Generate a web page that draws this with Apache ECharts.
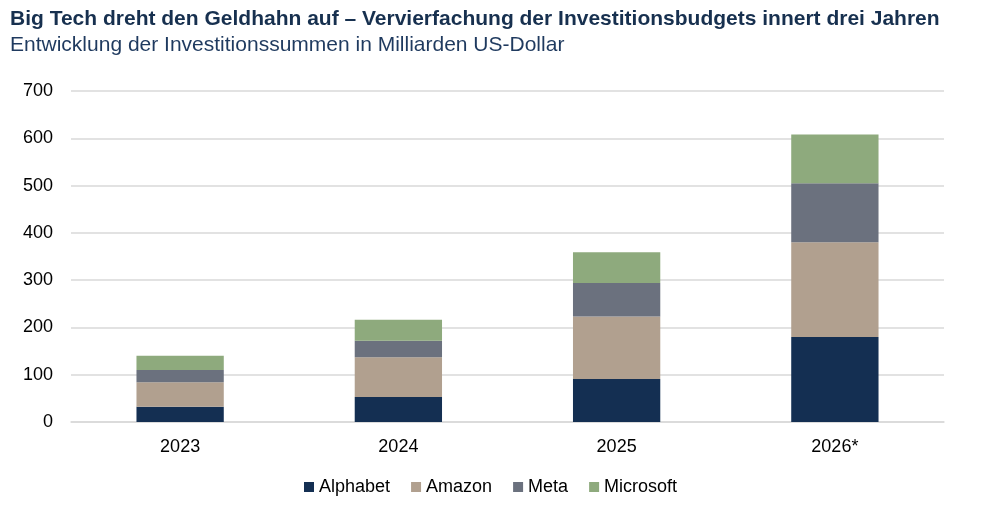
<!DOCTYPE html>
<html>
<head>
<meta charset="utf-8">
<script src="https://cdn.jsdelivr.net/npm/echarts@6/dist/echarts.min.js"></script>
<style>
html,body{margin:0;padding:0;background:#fff;}
#c{width:1008px;height:511px;}
</style>
</head>
<body>
<div id="c"></div>
<script>
const categories = ['2023', '2024', '2025', '2026*'];
const alphabet = [32, 53, 91, 180];
const amazon = [52, 84, 132, 200];
const meta = [26, 35, 71, 125];
const microsoft = [30, 44, 65, 103];
const yTicks = { min: 0, max: 700, interval: 100 };

const colors = ['#142f52', '#b1a08f', '#6b717e', '#8eaa7d'];
const names = ['Alphabet', 'Amazon', 'Meta', 'Microsoft'];
const dataSets = [alphabet, amazon, meta, microsoft];
const font = 'Liberation Sans, Arial, sans-serif';

const chart = echarts.init(document.getElementById('c'));
chart.setOption({
  animation: false,
  color: colors,
  title: [
    { text: 'Big Tech dreht den Geldhahn auf \u2013 Vervierfachung der Investitionsbudgets innert drei Jahren',
      left: 5, top: 4,
      textStyle: { fontFamily: font, fontSize: 21, fontWeight: 'bold', color: '#17304f' } },
    { text: 'Entwicklung der Investitionssummen in Milliarden US-Dollar',
      left: 5, top: 30,
      textStyle: { fontFamily: font, fontSize: 21, fontWeight: 'normal', color: '#1f3a5f' } }
  ],
  legend: {
    bottom: 10, left: 299,
    itemWidth: 10, itemHeight: 10, itemGap: 21,
    icon: 'rect',
    textStyle: { fontFamily: font, fontSize: 18, color: '#000' },
    data: names
  },
  grid: { left: 71, right: 64, top: 91, bottom: 89 },
  xAxis: {
    type: 'category', data: categories,
    axisLine: { lineStyle: { color: '#d9d9d9', width: 1.5 } },
    axisTick: { show: false },
    axisLabel: { fontFamily: font, fontSize: 18, color: '#000', margin: 16 }
  },
  yAxis: {
    type: 'value', min: yTicks.min, max: yTicks.max, interval: yTicks.interval,
    axisLine: { show: false }, axisTick: { show: false },
    axisLabel: { fontFamily: font, fontSize: 18, color: '#000', margin: 18 },
    splitLine: { lineStyle: { color: '#d9d9d9', width: 1.5 } }
  },
  series: dataSets.map((d, i) => ({
    name: names[i], type: 'bar', stack: 'total', data: d,
    barWidth: '40%',
    itemStyle: { color: colors[i] }
  }))
});
</script>
</body>
</html>
